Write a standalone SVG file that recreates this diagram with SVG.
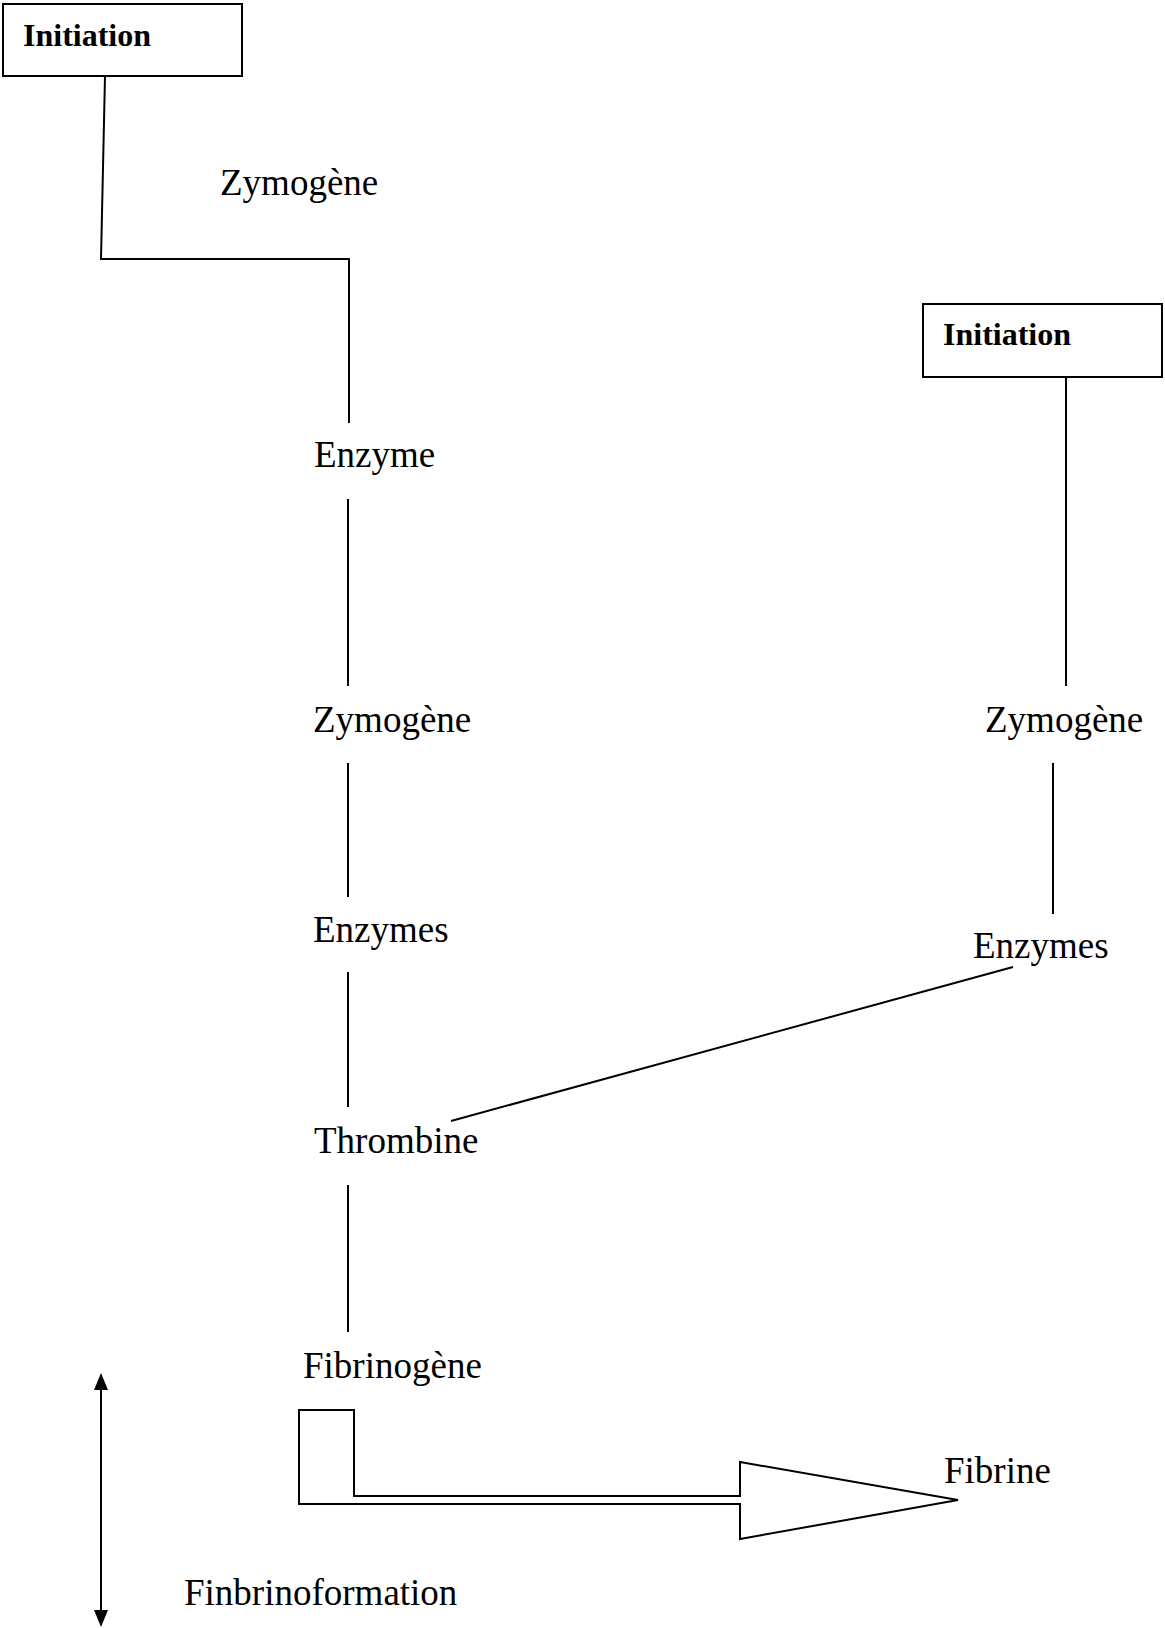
<svg xmlns="http://www.w3.org/2000/svg" width="1165" height="1628" viewBox="0 0 1165 1628">
  <style>
    .lbl { font-family: "Liberation Serif", "Times New Roman", serif; font-size: 37px; fill: #000; }
    .head { font-family: "Liberation Serif", "Times New Roman", serif; font-size: 32px; font-weight: bold; fill: #000; }
    .box { fill: #fff; stroke: #000; stroke-width: 2; }
    .ln { fill: none; stroke: #000; stroke-width: 2; }
  </style>
  <rect width="1165" height="1628" fill="#fff"/>

  <!-- connectors -->
  <g id="connectors">
    <polyline class="ln" points="105,76 101,259 349,259 349,423"/>
    <line class="ln" x1="348" y1="499" x2="348" y2="686"/>
    <line class="ln" x1="348" y1="763" x2="348" y2="897"/>
    <line class="ln" x1="348" y1="972" x2="348" y2="1107"/>
    <line class="ln" x1="348" y1="1185" x2="348" y2="1332"/>
    <line class="ln" x1="1066" y1="378" x2="1066" y2="686"/>
    <line class="ln" x1="1053" y1="763" x2="1053" y2="914"/>
    <line class="ln" x1="451" y1="1121" x2="1013" y2="967"/>
    <!-- block arrow from fibrinogen to fibrin -->
    <polygon class="ln" points="299,1410 354,1410 354,1496 740,1496 740,1462 958,1500 740,1539 740,1504 299,1504"/>
    <!-- double-headed arrow -->
    <line class="ln" x1="101" y1="1385" x2="101" y2="1615"/>
    <polygon points="101,1373 108,1390 94,1390" fill="#000"/>
    <polygon points="101,1627 108,1610 94,1610" fill="#000"/>
  </g>

  <g id="initiation-1">
    <rect class="box" x="3" y="4" width="239" height="72"/>
    <text class="head" x="23" y="46">Initiation</text>
  </g>
  <g id="initiation-2">
    <rect class="box" x="923" y="304" width="239" height="73"/>
    <text class="head" x="943" y="345">Initiation</text>
  </g>
  <g id="zymogene-1"><text class="lbl" x="220" y="195">Zymogène</text></g>
  <g id="enzyme"><text class="lbl" x="314" y="467">Enzyme</text></g>
  <g id="zymogene-2"><text class="lbl" x="313" y="732">Zymogène</text></g>
  <g id="enzymes-1"><text class="lbl" x="313" y="942">Enzymes</text></g>
  <g id="thrombine"><text class="lbl" x="314" y="1153">Thrombine</text></g>
  <g id="fibrinogene"><text class="lbl" x="303" y="1378">Fibrinogène</text></g>
  <g id="fibrine"><text class="lbl" x="944" y="1483">Fibrine</text></g>
  <g id="zymogene-3"><text class="lbl" x="985" y="732">Zymogène</text></g>
  <g id="enzymes-2"><text class="lbl" x="973" y="958">Enzymes</text></g>
  <g id="finbrinoformation"><text class="lbl" x="184" y="1605">Finbrinoformation</text></g>
</svg>
